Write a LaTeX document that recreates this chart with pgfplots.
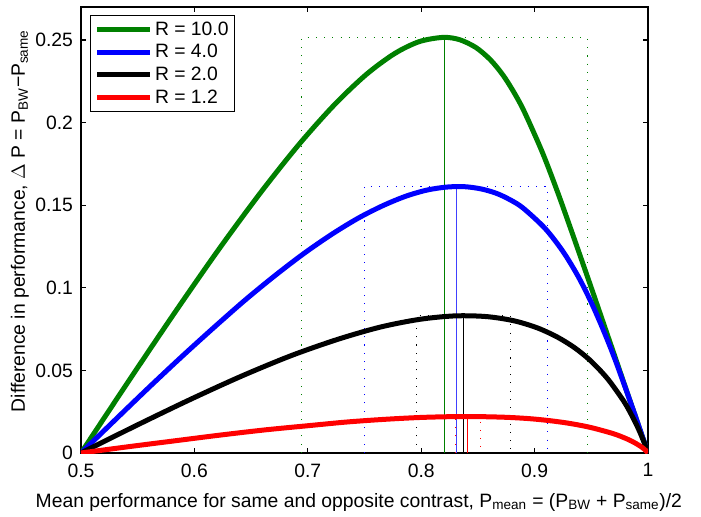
\documentclass[border=0pt]{standalone}
\usepackage{fontspec}
\setmainfont{Liberation Sans}
\usepackage{pgfplots}
\pgfplotsset{compat=1.18}
\definecolor{mgreen}{rgb}{0,0.5,0}
\begin{document}
\begin{tikzpicture}[font=\fontsize{14.5}{16}\selectfont]
\begin{axis}[
  scale only axis, width=425.25pt, height=334.5pt,
  xmin=0.5, xmax=1, ymin=0, ymax=0.27,
  xtick={0.5,0.6,0.7,0.8,0.9,1}, xticklabels={0.5,0.6,0.7,0.8,0.9,1},
  ytick={0,0.05,0.1,0.15,0.2,0.25}, yticklabels={0,0.05,0.1,0.15,0.2,0.25},
  tick align=inside, major tick length=4pt,
  axis line style={line width=0.8pt},
  tick style={line width=0.8pt, black},
  xticklabel style={inner sep=1pt, yshift=-6.8pt},
  yticklabel style={inner sep=1pt, xshift=-4.8pt},
  xlabel={Mean performance for same and opposite contrast, P\textsubscript{mean} = (P\textsubscript{BW} + P\textsubscript{same})/2},
  ylabel={Difference in performance, $\Delta$ P = P\textsubscript{BW}−P\textsubscript{same}},
  xlabel style={at={(axis description cs:0.49,0)}, anchor=base, yshift=-40.5pt},
  ylabel style={at={(axis description cs:-0.0988,0.52)}, anchor=base},
  legend style={at={(0,1)}, anchor=north west, xshift=6.75pt, yshift=-6pt,
    draw=black, line width=0.8pt, inner xsep=3pt, inner ysep=3pt, row sep=2.25pt,
    nodes={inner sep=1.6pt, anchor=west}},
  legend cell align=left,
  legend image code/.code={\draw[#1] (0pt,0pt) -- (40pt,0pt);},
]
% thin peak lines
\addplot[mgreen, line width=0.6pt, forget plot] coordinates {(0.8203,0) (0.8203,0.2516)};
\addplot[mgreen, line width=0.8pt, dash pattern=on 0.8pt off 5.4pt, forget plot] coordinates {(0.6945,0) (0.6945,0.2516) (0.9463,0.2516) (0.9463,0)};
\addplot[blue!75, line width=0.6pt, forget plot] coordinates {(0.8306,0) (0.8306,0.1613)};
\addplot[blue, line width=0.8pt, dash pattern=on 0.8pt off 5.4pt, forget plot] coordinates {(0.7500,0) (0.7500,0.1613) (0.9115,0.1613) (0.9115,0)};
\addplot[black, line width=0.6pt, forget plot] coordinates {(0.8370,0) (0.8370,0.0830)};
\addplot[black, line width=0.8pt, dash pattern=on 0.8pt off 5.4pt, forget plot] coordinates {(0.7955,0) (0.7955,0.0830) (0.8785,0.0830) (0.8785,0)};
\addplot[red, line width=0.6pt, forget plot] coordinates {(0.8410,0) (0.8410,0.0220)};
\addplot[red, line width=0.8pt, dash pattern=on 0.8pt off 5.4pt, forget plot] coordinates {(0.8300,0) (0.8300,0.0220) (0.8520,0.0220) (0.8520,0)};
% curves
\addplot[mgreen, line width=3.75pt, line join=round, smooth] coordinates {
(0.5,0) (0.5414,0.0429) (0.5820,0.0843) (0.6210,0.1228) (0.6579,0.1572) (0.6921,0.1867) (0.7233,0.2107) (0.7513,0.2290) (0.7763,0.2417) (0.7981,0.2490) (0.8193,0.2516) (0.8339,0.2502) (0.8484,0.2454) (0.8612,0.2379) (0.8723,0.2286) (0.8823,0.2177) (0.8912,0.2062) (0.9069,0.1819) (0.9203,0.1579) (0.9320,0.1354) (0.9424,0.1150) (0.9516,0.0968) (0.9596,0.0808) (0.9666,0.0668) (0.9726,0.0548) (0.9820,0.0359) (0.9886,0.0228) (0.99305,0.0139) (0.9969,0.0062) (0.99932,0.00135) (1,0)};
\addlegendentry{R = 10.0}
\addplot[blue, line width=3.75pt, line join=round, smooth] coordinates {
(0.5,0) (0.5299,0.0199) (0.5596,0.0395) (0.5888,0.0583) (0.6174,0.0761) (0.6451,0.0928) (0.6718,0.1078) (0.6974,0.1212) (0.7218,0.1327) (0.7448,0.1423) (0.7664,0.1498) (0.7866,0.1555) (0.8053,0.1592) (0.8227,0.1610) (0.8386,0.1612) (0.8533,0.1598) (0.8667,0.1571) (0.8789,0.1531) (0.8900,0.1482) (0.9093,0.1359) (0.9252,0.1218) (0.9384,0.1069) (0.9493,0.0921) (0.9583,0.0782) (0.9659,0.0655) (0.9723,0.0541) (0.9820,0.0357) (0.9886,0.0228) (0.99305,0.0139) (0.9969,0.0062) (0.99932,0.00135) (1,0)};
\addlegendentry{R = 4.0}
\addplot[black, line width=3.75pt, line join=round, smooth] coordinates {
(0.5,0) (0.5480,0.0164) (0.5954,0.0321) (0.6411,0.0464) (0.6848,0.0588) (0.7259,0.0687) (0.7638,0.0762) (0.7985,0.0809) (0.8296,0.0830) (0.8572,0.0826) (0.8814,0.0801) (0.9022,0.0758) (0.9200,0.0702) (0.9351,0.0638) (0.9477,0.0569) (0.9581,0.0498) (0.9667,0.0429) (0.9794,0.0305) (0.9874,0.0205) (0.9926,0.0130) (0.9968,0.0060) (0.99932,0.0013) (1,0)};
\addlegendentry{R = 2.0}
\addplot[red, line width=3.75pt, line join=round, smooth] coordinates {
(0.5,0) (0.5417,0.0038) (0.5830,0.0074) (0.6234,0.0109) (0.6624,0.0140) (0.6998,0.0165) (0.7351,0.0188) (0.7682,0.0204) (0.7989,0.0215) (0.8269,0.0220) (0.8523,0.0220) (0.8751,0.0216) (0.8953,0.0208) (0.9130,0.0196) (0.9283,0.0182) (0.9415,0.0166) (0.9527,0.0149) (0.9699,0.0116) (0.9815,0.0085) (0.98905,0.0059) (0.99537,0.0031) (0.99907,0.0008) (1,0)};
\addlegendentry{R = 1.2}
\end{axis}
\path ([xshift=-60.75pt,yshift=-47.25pt]current axis.south west) rectangle ([xshift=39.75pt,yshift=5.25pt]current axis.north east);
\end{tikzpicture}
\end{document}
